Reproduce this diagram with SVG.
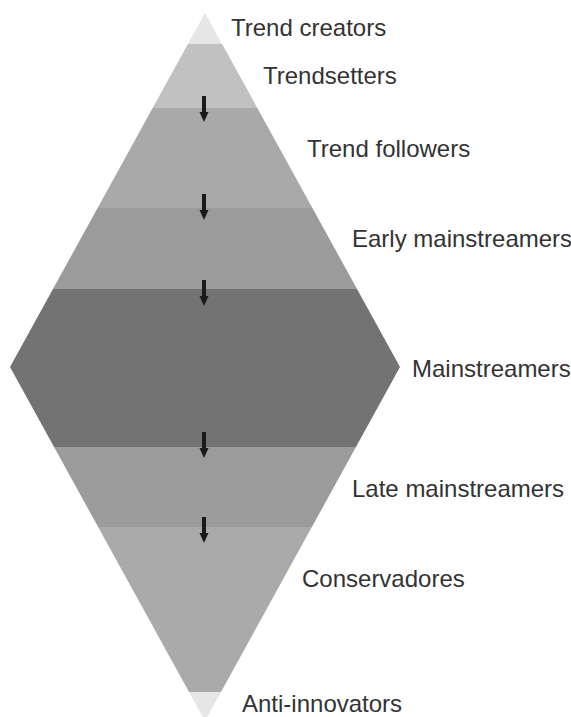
<svg xmlns="http://www.w3.org/2000/svg" width="571" height="717" viewBox="0 0 571 717">
<style>
.lbl{font-family:"Liberation Sans",Arial,sans-serif;font-size:24px;fill:#333}
</style>
<defs>
<clipPath id="dia"><polygon points="205,13 400,367 205,721 10,367"/></clipPath>
<g id="arw"><rect x="-2" y="0" width="4" height="17" fill="#1a1a1a"/><polygon points="-4.5,16 4.5,16 0,26" fill="#1a1a1a"/></g>
</defs>
<rect width="571" height="717" fill="#fff"/>
<g clip-path="url(#dia)">
<g id="trend-creators"><rect x="0" y="0" width="420" height="44" fill="#e6e6e6"/></g>
<g id="trendsetters"><rect x="0" y="44" width="420" height="64" fill="#c1c1c1"/></g>
<g id="trend-followers"><rect x="0" y="108" width="420" height="100" fill="#a9a9a9"/></g>
<g id="early-mainstreamers"><rect x="0" y="208" width="420" height="81" fill="#9b9b9b"/></g>
<g id="mainstreamers"><rect x="0" y="289" width="420" height="158" fill="#737373"/></g>
<g id="late-mainstreamers"><rect x="0" y="447" width="420" height="80" fill="#9b9b9b"/></g>
<g id="conservadores"><rect x="0" y="527" width="420" height="165" fill="#aaaaaa"/></g>
<g id="anti-innovators"><rect x="0" y="692" width="420" height="30" fill="#e6e6e6"/></g>
</g>
<g id="connectors">
<use href="#arw" x="204" y="96"/>
<use href="#arw" x="204" y="194"/>
<use href="#arw" x="204" y="280"/>
<use href="#arw" x="204" y="432"/>
<use href="#arw" x="204" y="517"/>
</g>
<g id="labels">
<text class="lbl" x="231" y="36">Trend creators</text>
<text class="lbl" x="263" y="84">Trendsetters</text>
<text class="lbl" x="307" y="157">Trend followers</text>
<text class="lbl" x="352" y="247">Early mainstreamers</text>
<text class="lbl" x="412" y="377">Mainstreamers</text>
<text class="lbl" x="352" y="497">Late mainstreamers</text>
<text class="lbl" x="302" y="587">Conservadores</text>
<text class="lbl" x="242" y="712">Anti-innovators</text>
</g>
</svg>
